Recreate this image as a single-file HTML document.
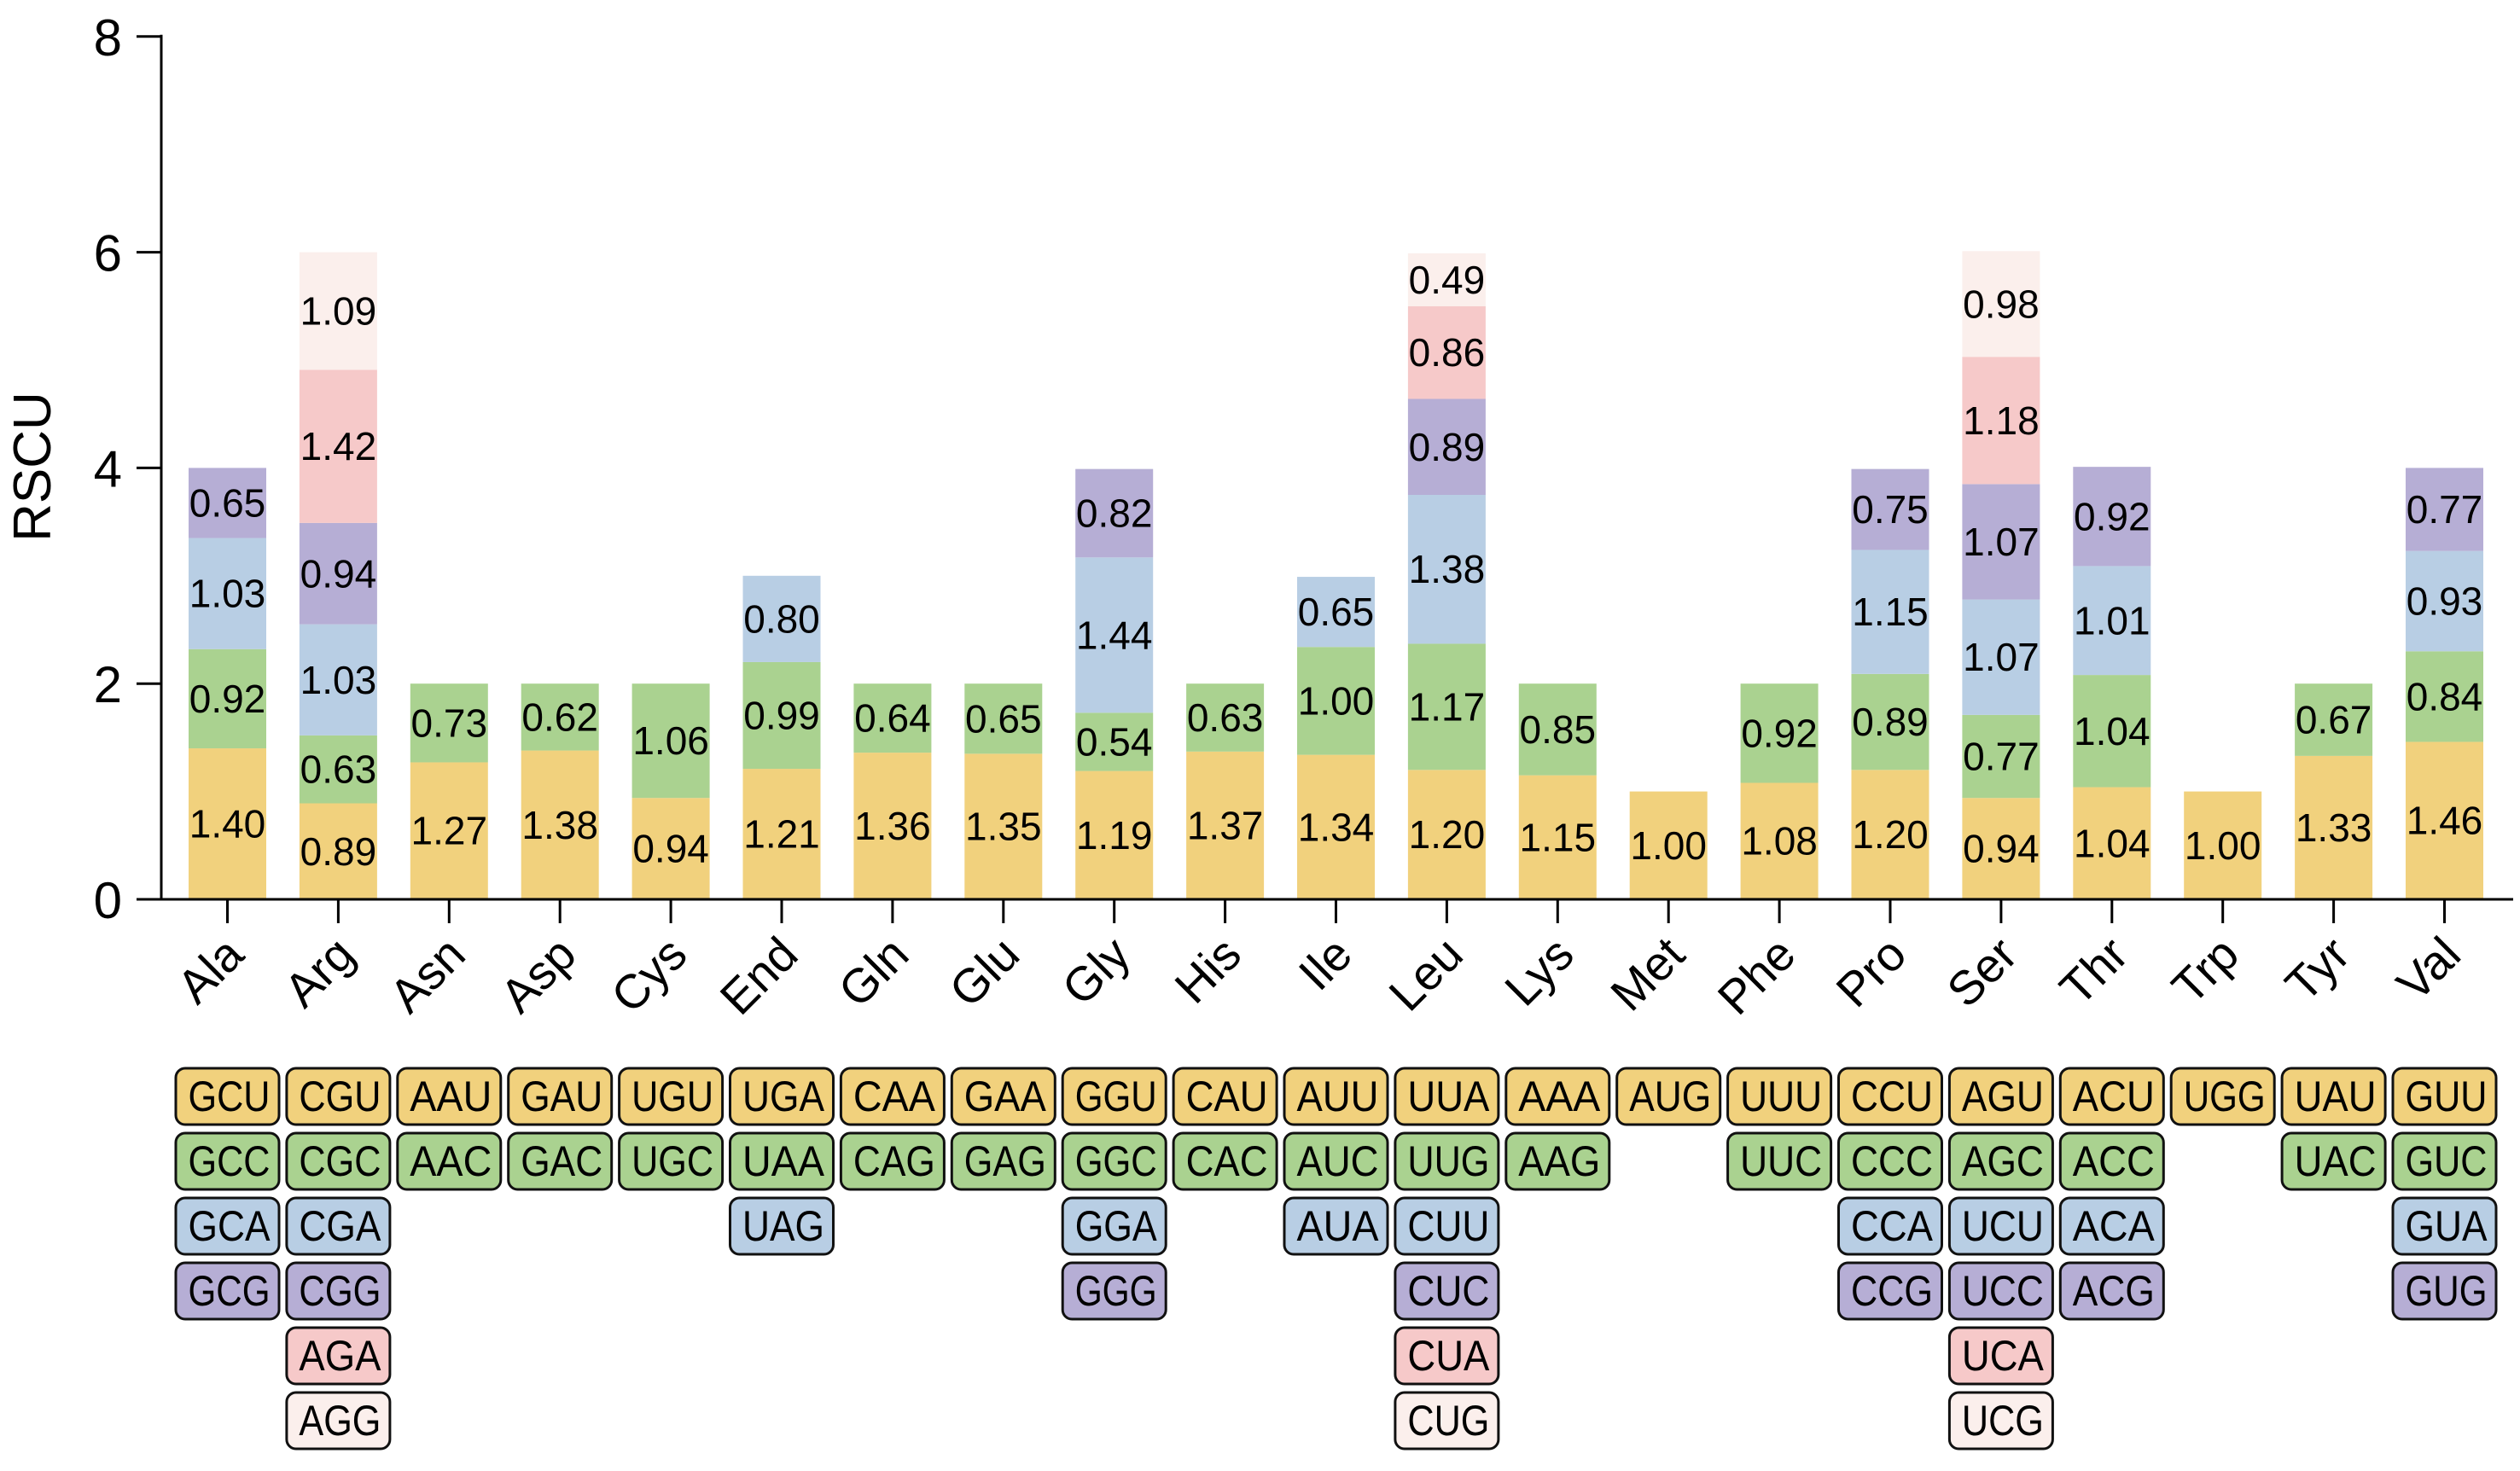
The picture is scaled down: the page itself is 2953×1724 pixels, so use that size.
<!DOCTYPE html>
<html><head><meta charset="utf-8"><style>
html,body{margin:0;padding:0;background:#fff;}
svg{display:block;font-family:"Liberation Sans",Arial,sans-serif;}
</style></head><body>
<svg id="chart" width="2953" height="1724" viewBox="0 0 2953 1724" xmlns="http://www.w3.org/2000/svg">
<g id="plot"></g>
</svg>
<script>
const aminoAcids = ["Ala","Arg","Asn","Asp","Cys","End","Gln","Glu","Gly","His","Ile","Leu","Lys","Met","Phe","Pro","Ser","Thr","Trp","Tyr","Val"];
const rscuValues = [
 [1.40,0.92,1.03,0.65],
 [0.89,0.63,1.03,0.94,1.42,1.09],
 [1.27,0.73],
 [1.38,0.62],
 [0.94,1.06],
 [1.21,0.99,0.80],
 [1.36,0.64],
 [1.35,0.65],
 [1.19,0.54,1.44,0.82],
 [1.37,0.63],
 [1.34,1.00,0.65],
 [1.20,1.17,1.38,0.89,0.86,0.49],
 [1.15,0.85],
 [1.00],
 [1.08,0.92],
 [1.20,0.89,1.15,0.75],
 [0.94,0.77,1.07,1.07,1.18,0.98],
 [1.04,1.04,1.01,0.92],
 [1.00],
 [1.33,0.67],
 [1.46,0.84,0.93,0.77]
];
const codons = [
 ["GCU","GCC","GCA","GCG"],
 ["CGU","CGC","CGA","CGG","AGA","AGG"],
 ["AAU","AAC"],
 ["GAU","GAC"],
 ["UGU","UGC"],
 ["UGA","UAA","UAG"],
 ["CAA","CAG"],
 ["GAA","GAG"],
 ["GGU","GGC","GGA","GGG"],
 ["CAU","CAC"],
 ["AUU","AUC","AUA"],
 ["UUA","UUG","CUU","CUC","CUA","CUG"],
 ["AAA","AAG"],
 ["AUG"],
 ["UUU","UUC"],
 ["CCU","CCC","CCA","CCG"],
 ["AGU","AGC","UCU","UCC","UCA","UCG"],
 ["ACU","ACC","ACA","ACG"],
 ["UGG"],
 ["UAU","UAC"],
 ["GUU","GUC","GUA","GUG"]
];
const yTicks = [0,2,4,6,8];
const colors = ["#F1D17D","#AAD290","#B8CEE4","#B6AED5","#F6C9C9","#FBEFEC"];

const NS = "http://www.w3.org/2000/svg";
const g = document.getElementById("plot");
const X0 = 266.5, STEP = 129.9, BW = 91;
const Y0 = 1054, YPU = 126.4;
const xc = i => X0 + STEP * i;
const ys = v => Y0 - v * YPU;
function mk(tag, attrs, parent){
  const e = document.createElementNS(NS, tag);
  for (const k in attrs) e.setAttribute(k, attrs[k]);
  (parent || g).appendChild(e);
  return e;
}

aminoAcids.forEach((aa, i) => {
  let acc = 0;
  rscuValues[i].forEach((v, j) => {
    const r = mk("rect", {x: xc(i) - BW/2, y: ys(acc + v), width: BW, height: v * YPU, fill: colors[j]});
    
    
    const t = mk("text", {x: xc(i), y: ys(acc + v/2) + 16, "text-anchor": "middle", "font-size": 46, fill: "#000"});
    t.textContent = v.toFixed(2);
    
    
    acc += v;
  });
});

const ya = mk("line", {x1: 189, y1: ys(8) - 2, x2: 189, y2: Y0 + 1.5, stroke: "#000", "stroke-width": 3});


const xa = mk("line", {x1: 160, y1: Y0, x2: 2945, y2: Y0, stroke: "#000", "stroke-width": 3});



yTicks.forEach(v => {
  const l = mk("line", {x1: 160, y1: ys(v), x2: 189, y2: ys(v), stroke: "#000", "stroke-width": 3});
  
  
  const t = mk("text", {x: 143, y: ys(v) + 22, "text-anchor": "end", "font-size": 60});
  t.textContent = v;
  
  
});
const yt = mk("text", {x: 0, y: 0, transform: "translate(59,547) rotate(-90)", "text-anchor": "middle", "font-size": 62});
yt.textContent = "RSCU";



aminoAcids.forEach((aa, i) => {
  const l = mk("line", {x1: xc(i), y1: Y0, x2: xc(i), y2: Y0 + 28, stroke: "#000", "stroke-width": 3});
  
  
  const t = mk("text", {x: 0, y: 0, transform: `translate(${xc(i) + 22},${Y0 + 68}) rotate(-45)`, "text-anchor": "end", "font-size": 56});
  t.textContent = aa;
  
  
});

const BOXW = 121, BOXH = 66, ROW0 = 1252, ROWSTEP = 76;
codons.forEach((list, i) => {
  list.forEach((c, j) => {
    const y = ROW0 + j * ROWSTEP;
    const r = mk("rect", {x: xc(i) - BOXW/2, y: y, width: BOXW, height: BOXH, rx: 11, ry: 11, fill: colors[j], stroke: "#111", "stroke-width": 3});
    
    
    const t = mk("text", {x: xc(i) + 2, y: y + 50, "text-anchor": "middle", "font-size": 50, "textLength": 96, "lengthAdjust": "spacingAndGlyphs"});
    t.textContent = c;
    
    
  });
});
</script>
</body></html>
